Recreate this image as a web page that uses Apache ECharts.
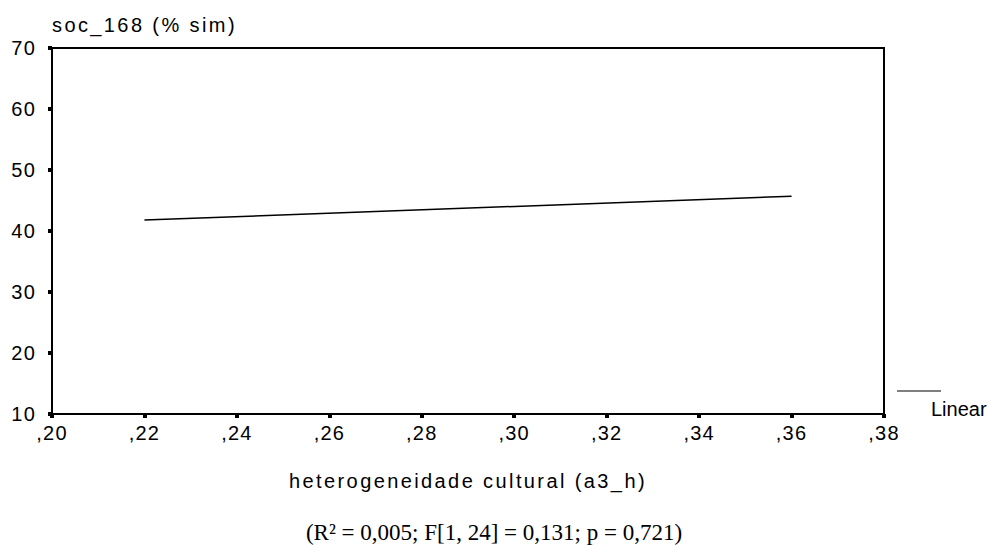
<!DOCTYPE html>
<html>
<head>
<meta charset="utf-8">
<script src="https://cdn.jsdelivr.net/npm/echarts@6/dist/echarts.min.js"></script>
<style>
    html, body {margin: 0; padding: 0; background: #fff;}
    #main {width: 988px; height: 545px;}
    /* spaced-out sans texts, like the original export */
    #main text[style*="sans-serif"], #main text[font-family*="sans-serif"] {letter-spacing: 2.4px;}
    #main text[style*="Helvetica"], #main text[font-family*="Helvetica"] {letter-spacing: 1.2px;}
</style>
</head>
<body>
<div id="main"></div>
<script>
    // regression line end points (x = a3_h, y = soc_168)
    var lineX = [0.22, 0.36];
    var lineY = [41.8, 45.7];
    var xTicks = [0.20, 0.22, 0.24, 0.26, 0.28, 0.30, 0.32, 0.34, 0.36, 0.38];
    var yTicks = [10, 20, 30, 40, 50, 60, 70];
    var seriesName = 'Linear';
    var yName = 'soc_168 (% sim)';
    var xName = 'heterogeneidade cultural (a3_h)';
    var footNote = '(R² = 0,005; F[1, 24] = 0,131; p = 0,721)';

    var lineData = [];
    for (var i = 0; i < lineX.length; i++) {
        lineData.push([lineX[i], lineY[i]]);
    }

    var spaced = "'Liberation Sans', sans-serif";
    var tickFont = "'Liberation Sans', Helvetica";

    var option = {
        backgroundColor: '#fff',
        animation: false,
        grid: {
            left: 52,
            right: 104,
            top: 48,
            bottom: 131,
            show: true,
            borderColor: '#000',
            borderWidth: 2
        },
        xAxis: {
            type: 'value',
            min: xTicks[0],
            max: xTicks[xTicks.length - 1],
            interval: 0.02,
            name: xName,
            nameLocation: 'middle',
            nameGap: 57,
            nameTextStyle: {fontFamily: spaced, fontSize: 20, color: '#000'},
            axisLine: {show: true, lineStyle: {color: '#000', width: 2}},
            axisTick: {show: true, length: 4, lineStyle: {color: '#000', width: 4}},
            axisLabel: {
                margin: 9,
                fontFamily: tickFont,
                fontSize: 20,
                color: '#000',
                formatter: function (v) {
                    return ',' + Math.round(v * 100);
                }
            },
            splitLine: {show: false}
        },
        yAxis: {
            type: 'value',
            min: yTicks[0],
            max: yTicks[yTicks.length - 1],
            interval: 10,
            name: yName,
            nameLocation: 'end',
            nameGap: 13,
            nameTextStyle: {fontFamily: spaced, fontSize: 20, color: '#000', align: 'left'},
            axisLine: {show: true, lineStyle: {color: '#000', width: 2}},
            axisTick: {show: true, length: 4, lineStyle: {color: '#000', width: 4}},
            axisLabel: {margin: 16, fontFamily: tickFont, fontSize: 20, color: '#000', padding: [4, 0, 0, 0]},
            splitLine: {show: false}
        },
        series: [
            {
                name: seriesName,
                type: 'line',
                data: lineData,
                showSymbol: false,
                lineStyle: {color: '#000', width: 1.5}
            }
        ],
        graphic: [
            {
                type: 'line',
                shape: {x1: 897, y1: 391, x2: 941, y2: 391},
                style: {stroke: '#000', lineWidth: 1.2}
            },
            {
                type: 'text',
                left: 931,
                top: 399,
                style: {text: seriesName, font: "20px Arial", fill: '#000'}
            },
            {
                type: 'text',
                x: 494,
                y: 532,
                style: {
                    text: footNote,
                    fontFamily: "'Liberation Serif'",
                    fontSize: 23,
                    fill: '#000',
                    align: 'center',
                    verticalAlign: 'middle'
                }
            }
        ]
    };

    var myChart = echarts.init(document.getElementById('main'), null, {renderer: 'svg'});
    myChart.setOption(option);
</script>
</body>
</html>
